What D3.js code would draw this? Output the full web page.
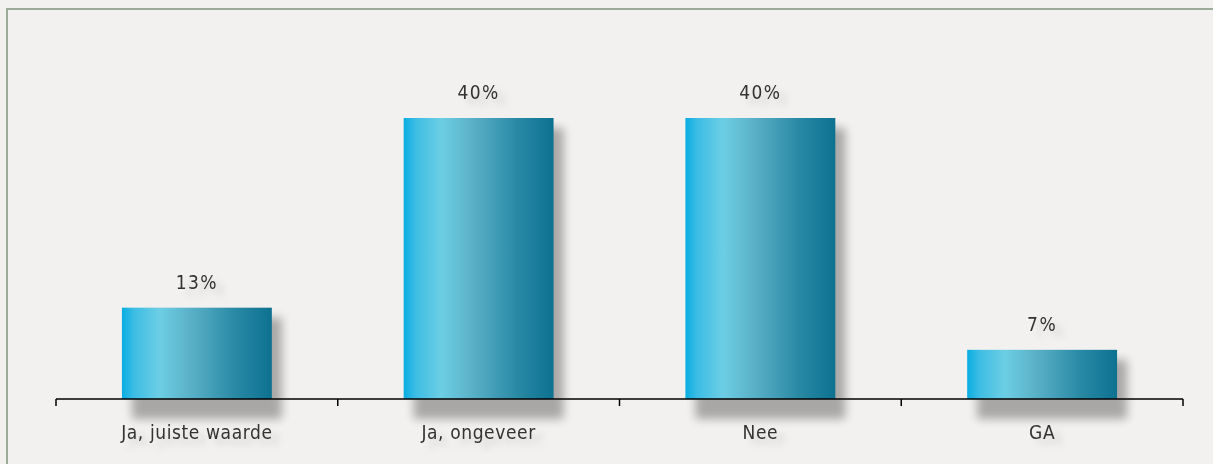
<!DOCTYPE html>
<html><head><meta charset="utf-8">
<script src="https://cdn.jsdelivr.net/npm/d3@7"></script>
<style>
html,body{margin:0;padding:0;background:#f2f1ef;}
svg{display:block;}
text{font-family:"DejaVu Sans Condensed","DejaVu Sans",sans-serif;font-stretch:condensed;fill:#333;}
</style></head>
<body>
<script>
const categories = ["Ja, juiste waarde", "Ja, ongeveer", "Nee", "GA"];
const values = [13, 40, 40, 7];
const valueLabels = ["13%", "40%", "40%", "7%"];

const W = 1213, H = 464;
const svg = d3.select("body").append("svg").attr("width", W).attr("height", H);

const defs = svg.append("defs");
const grad = defs.append("linearGradient").attr("id","barGrad").attr("x1","0").attr("x2","1").attr("y1","0").attr("y2","0");
[["0%","#09ade2"],["8%","#3dbde4"],["25%","#6ccee4"],["45%","#5bb2c8"],["75%","#2a8aa6"],["100%","#0d7190"]]
  .forEach(([o,c]) => grad.append("stop").attr("offset",o).attr("stop-color",c));
const shadow = defs.append("filter").attr("id","shadow").attr("x","-20%").attr("y","-20%").attr("width","150%").attr("height","150%");
shadow.append("feGaussianBlur").attr("stdDeviation", 5);
const ts = defs.append("filter").attr("id","tshadow").attr("x","-30%").attr("y","-60%").attr("width","170%").attr("height","260%");
ts.append("feDropShadow").attr("dx",8).attr("dy",6).attr("stdDeviation",3.5).attr("flood-color","#000").attr("flood-opacity",0.13);

// frame lines
svg.append("line").attr("x1",6).attr("x2",W).attr("y1",9).attr("y2",9).attr("stroke","#9aab9a").attr("stroke-width",2);
svg.append("line").attr("x1",7).attr("x2",7).attr("y1",8).attr("y2",H).attr("stroke","#9aab9a").attr("stroke-width",2);

const x = d3.scaleBand().domain(categories).range([56, 1183]).paddingInner(0.468).paddingOuter(0.234);
const y = d3.scaleLinear().domain([0, 40]).range([399, 118]);

const g = svg.append("g");
g.selectAll("rect.sh").data(values).join("rect").attr("class","sh")
  .attr("x",(d,i)=>x(categories[i])+10).attr("y",(d)=>y(d)+10)
  .attr("width",x.bandwidth()).attr("height",d=>y(0)-y(d)+10)
  .attr("fill","#000").attr("opacity",0.3).attr("filter","url(#shadow)");
g.selectAll("rect.bar").data(values).join("rect").attr("class","bar")
  .attr("x",(d,i)=>x(categories[i])).attr("y",d=>y(d))
  .attr("width",x.bandwidth()).attr("height",d=>y(0)-y(d))
  .attr("fill","url(#barGrad)");
g.selectAll("text.val").data(values).join("text").attr("class","val")
  .attr("x",(d,i)=>x(categories[i])+x.bandwidth()/2).attr("y",d=>y(d)-19)
  .attr("text-anchor","middle").attr("font-size",19).attr("letter-spacing",1.5)
  .attr("filter","url(#tshadow)")
  .text((d,i)=>valueLabels[i]);

// axis
const ax = svg.append("g").attr("transform","translate(0,399)");
ax.append("line").attr("x1",56).attr("x2",1183).attr("stroke","#000").attr("stroke-width",1.5);
const bounds = [56].concat(categories.map(c => x(c) + x.bandwidth()/2 + x.step()/2));
ax.selectAll("line.tk").data(bounds).join("line").attr("class","tk")
  .attr("x1",d=>d).attr("x2",d=>d).attr("y1",0).attr("y2",7).attr("stroke","#000").attr("stroke-width",1.5);
ax.selectAll("text.cat").data(categories).join("text").attr("class","cat")
  .attr("x",d=>x(d)+x.bandwidth()/2).attr("y",40)
  .attr("text-anchor","middle").attr("font-size",19).attr("letter-spacing",0.6)
  .attr("filter","url(#tshadow)")
  .text(d=>d);
</script>
</body></html>
